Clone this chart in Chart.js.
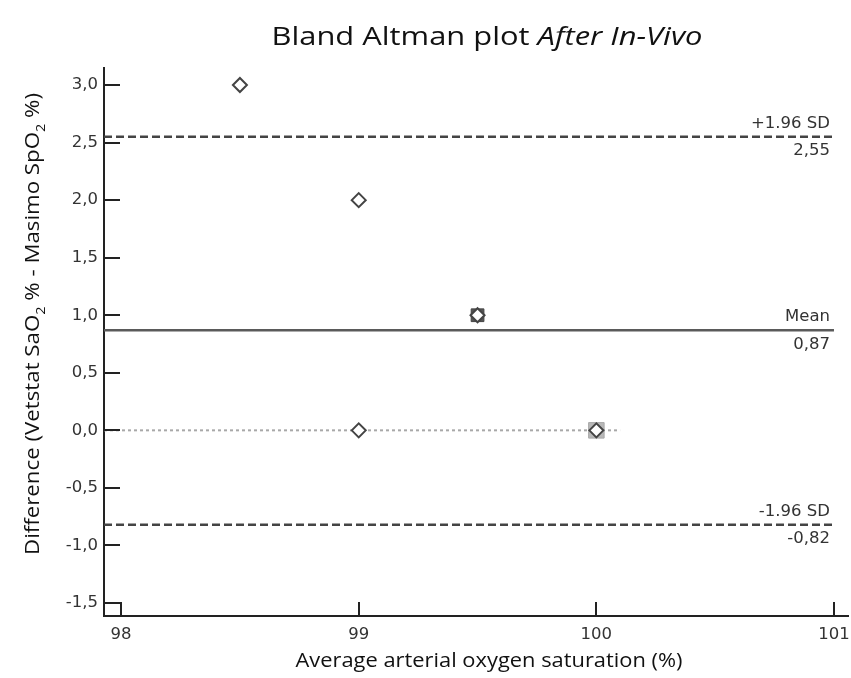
<!DOCTYPE html>
<html><head><meta charset="utf-8">
<script src="https://cdn.jsdelivr.net/npm/chart.js@4.4.1/dist/chart.umd.min.js"></script>
<style>html,body{margin:0;padding:0;background:#fff;overflow:hidden}#wrap{width:851px;height:678px;position:relative}canvas{display:block}</style>
</head><body><div id="wrap"><canvas id="c" width="851" height="678"></canvas></div>
<script>
// ---- data ----
const avgSat = [98.5, 99, 99.5, 99, 100];
const diffs = [3.0, 2.0, 1.0, 0.0, 0.0];
const repeatedAvg = [99.5, 100];
const repeatedDiff = [1.0, 0.0];
const meanDiff = 0.87;
const upperLoA = 2.55;
const lowerLoA = -0.82;
const zeroLineEnd = 100.1;
const yTicks = [3.0, 2.5, 2.0, 1.5, 1.0, 0.5, 0.0, -0.5, -1.0, -1.5];
const xTicks = [98, 99, 100, 101];
const xRange = [97.928, 101.059];
const yRange = [-1.613, 3.148];

const fmt = v => v.toFixed(1).replace('.', ',');
const fmt2 = v => v.toFixed(2).replace('.', ',');

const pts = avgSat.map((x, i) => ({x, y: diffs[i]}));
const rep = repeatedAvg.map((x, i) => ({x, y: repeatedDiff[i]}));
const hline = (y, x0, x1) => [{x: x0, y}, {x: x1, y}];

const tickFont = {family: '"DejaVu Sans", sans-serif', size: 16.5};

function drawFitted(ctx, text, cx, cy, font, targetW) {
  ctx.font = font;
  const w = ctx.measureText(text).width;
  const s = targetW / w;
  ctx.save();
  ctx.translate(cx, cy); ctx.scale(s, 1);
  ctx.textAlign = 'center'; ctx.textBaseline = 'middle';
  ctx.fillText(text, 0, 0);
  ctx.restore();
}

const decor = {
  id: 'decor',
  afterDatasetsDraw(chart) {
    const ctx = chart.ctx, xs = chart.scales.x, ys = chart.scales.y;
    const ca = chart.chartArea;
    ctx.save();
    // inward tick marks
    ctx.strokeStyle = '#222'; ctx.lineWidth = 2;
    yTicks.forEach(v => {
      const py = Math.round(ys.getPixelForValue(v));
      ctx.beginPath(); ctx.moveTo(ca.left, py); ctx.lineTo(ca.left + 16, py); ctx.stroke();
    });
    xTicks.forEach(v => {
      const px = Math.round(xs.getPixelForValue(v));
      ctx.beginPath(); ctx.moveTo(px, ca.bottom); ctx.lineTo(px, ca.bottom - 14); ctx.stroke();
    });
    // line labels
    ctx.fillStyle = '#333';
    ctx.font = '16.5px "DejaVu Sans", sans-serif';
    ctx.textAlign = 'right';
    const rx = xs.getPixelForValue(101) - 4;
    const lab = (v, top, bottom) => {
      const py = ys.getPixelForValue(v);
      ctx.textBaseline = 'bottom'; ctx.fillText(top, rx, py - 5);
      ctx.textBaseline = 'top'; ctx.fillText(bottom, rx, py + 6);
    };
    lab(upperLoA, '+1.96 SD', fmt2(upperLoA));
    lab(meanDiff, 'Mean', fmt2(meanDiff));
    lab(lowerLoA, '-1.96 SD', fmt2(lowerLoA));
    ctx.restore();
  },
  afterDraw(chart) {
    const ctx = chart.ctx;
    ctx.save();
    ctx.fillStyle = '#111';
    // title (mixed roman / italic), fitted to width
    const f1 = '25px "Open Sans", sans-serif', f2 = 'italic 25px "Open Sans", sans-serif';
    const a = 'Bland Altman plot ', b = 'After In-Vivo';
    ctx.font = f1; const wa = ctx.measureText(a).width;
    ctx.font = f2; const wb = ctx.measureText(b).width;
    const s = 431 / (wa + wb);
    ctx.save();
    ctx.translate(487, 38); ctx.scale(s, 1);
    ctx.textAlign = 'left'; ctx.textBaseline = 'middle';
    const x0 = -(wa + wb) / 2;
    ctx.font = f1; ctx.fillText(a, x0, 0);
    ctx.font = f2; ctx.fillText(b, x0 + wa, 0);
    ctx.restore();
    // x title
    drawFitted(ctx, 'Average arterial oxygen saturation (%)', 489, 661, '20px "Open Sans", sans-serif', 387);
    // y title with subscripts
    const runs = [['Difference (Vetstat SaO', 0], ['2', 1], [' % - Masimo SpO', 0], ['2', 1], [' %)', 0]];
    const fMain = '20px "Open Sans", sans-serif', fSub = '13px "Open Sans", sans-serif';
    let tw = 0;
    runs.forEach(r => { ctx.font = r[1] ? fSub : fMain; tw += ctx.measureText(r[0]).width; });
    const sy = 462 / tw;
    ctx.translate(33, 324); ctx.rotate(-Math.PI / 2); ctx.scale(sy, 1);
    let cx = -tw / 2;
    ctx.textAlign = 'left'; ctx.textBaseline = 'middle';
    runs.forEach(r => {
      ctx.font = r[1] ? fSub : fMain;
      ctx.fillText(r[0], cx, r[1] ? 8 : 0);
      cx += ctx.measureText(r[0]).width;
    });
    ctx.restore();
  }
};

new Chart(document.getElementById('c'), {
  type: 'scatter',
  data: {
    datasets: [
      {data: hline(0, xRange[0], zeroLineEnd), showLine: true, borderColor: '#a8a8a8', borderWidth: 2, borderDash: [3, 3], pointRadius: 0, order: 5},
      {data: hline(meanDiff, xRange[0], 101), showLine: true, borderColor: '#5a5a5a', borderWidth: 2.5, pointRadius: 0, order: 4},
      {data: hline(upperLoA, xRange[0], 101), showLine: true, borderColor: '#444', borderWidth: 2.5, borderDash: [8, 4], pointRadius: 0, order: 4},
      {data: hline(lowerLoA, xRange[0], 101), showLine: true, borderColor: '#444', borderWidth: 2.5, borderDash: [8, 4], pointRadius: 0, order: 4},
      {data: rep, pointStyle: 'rect', pointRadius: [9, 11], backgroundColor: ['#555', '#b8b8b8'], borderColor: ['#444', '#aaa'], borderWidth: 1, order: 2},
      {data: pts, pointStyle: 'rectRot', pointRadius: 7, backgroundColor: '#fff', borderColor: '#444', borderWidth: 2, order: 1}
    ]
  },
  options: {
    responsive: false, animation: false,
    layout: {autoPadding: false, padding: {top: 68, right: 3, left: 0, bottom: 0}},
    plugins: {legend: {display: false}, tooltip: {enabled: false}, title: {display: false}},
    scales: {
      x: {
        type: 'linear', min: xRange[0], max: xRange[1],
        afterBuildTicks: s => { s.ticks = xTicks.map(v => ({value: v})); },
        afterFit: s => { s.height = 62; s.paddingLeft = 0; s.paddingRight = 0; },
        grid: {display: false, drawTicks: false, tickLength: 0},
        border: {display: true, color: '#222', width: 2},
        ticks: {font: tickFont, color: '#333', padding: 9, maxRotation: 0, autoSkip: false, callback: v => String(v)}
      },
      y: {
        type: 'linear', min: yRange[0], max: yRange[1],
        afterBuildTicks: s => { s.ticks = yTicks.map(v => ({value: v})); },
        afterFit: s => { s.width = 104; s.paddingTop = 0; s.paddingBottom = 0; },
        grid: {display: false, drawTicks: false, tickLength: 0},
        border: {display: true, color: '#222', width: 2},
        ticks: {font: tickFont, color: '#333', padding: 6, autoSkip: false, callback: v => fmt(v)}
      }
    }
  },
  plugins: [decor]
});
</script></body></html>
